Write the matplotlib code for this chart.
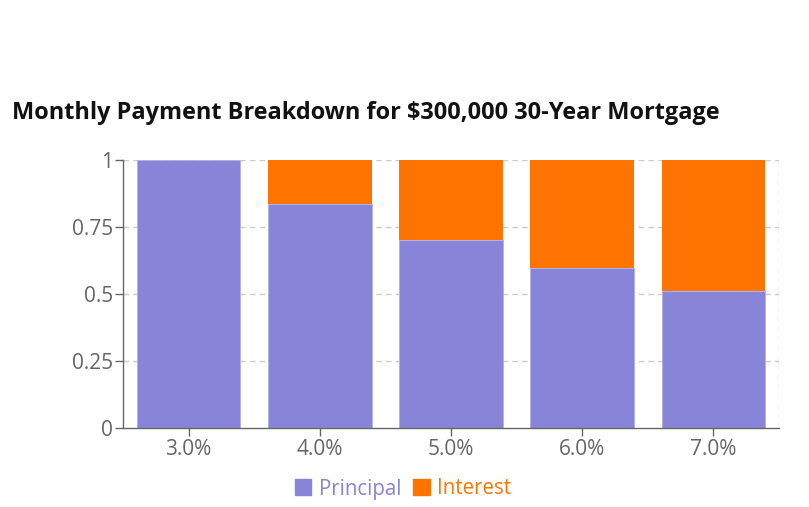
import numpy as np
import matplotlib.pyplot as plt
from matplotlib.patches import Patch

# ---- chart data ----
RATES = ["3.0%", "4.0%", "5.0%", "6.0%", "7.0%"]
PRINCIPAL = [1.0, 0.835, 0.70, 0.598, 0.512]
INTEREST = [0.0, 0.165, 0.30, 0.402, 0.488]
Y_TICKS = [0, 0.25, 0.5, 0.75, 1]
Y_TICK_LABELS = ["0", "0.25", "0.5", "0.75", "1"]

PRINCIPAL_COLOR = "#8884d8"
INTEREST_COLOR = "#ff7300"
AXIS_COLOR = "#666666"

plt.rcParams["font.family"] = ["Open Sans", "DejaVu Sans"]

W, H = 809, 507
fig = plt.figure(figsize=(W / 100, H / 100), dpi=100)
ax = fig.add_axes([123 / W, (H - 428) / H, (779 - 123) / W, (428 - 160) / H])

x = np.arange(len(RATES))
ax.bar(x, PRINCIPAL, width=0.79, color=PRINCIPAL_COLOR, edgecolor="#b3b0e8", linewidth=0.6, zorder=2)
ax.bar(x, INTEREST, width=0.79, bottom=PRINCIPAL, color=INTEREST_COLOR, linewidth=0, zorder=2)

ax.set_xlim(-0.5, len(RATES) - 0.5)
ax.set_ylim(0, 1)
ax.set_xticks(x)
ax.set_xticklabels(RATES)
ax.set_yticks(Y_TICKS)
ax.set_yticklabels(Y_TICK_LABELS)

# dashed grid like the reference
for yv in Y_TICKS[1:]:
    ax.axhline(yv, color="#cccccc", linestyle=(0, (4, 3)), linewidth=1, zorder=1)
ax.axvline(len(RATES) - 0.5, color="#cccccc", linestyle=(0, (4, 3)), linewidth=1, zorder=1)

for side in ["top", "right"]:
    ax.spines[side].set_visible(False)
for side in ["left", "bottom"]:
    ax.spines[side].set_color(AXIS_COLOR)
    ax.spines[side].set_linewidth(1)

ax.tick_params(axis="both", colors=AXIS_COLOR, labelcolor=AXIS_COLOR, labelsize=15, length=6, width=1)
ax.tick_params(axis="x", pad=2)
ax.tick_params(axis="y", pad=1)

fig.text(12 / W, 1 - 113 / H, "Monthly Payment Breakdown for $300,000 30-Year Mortgage",
         fontsize=16.9, fontweight="bold", color="#111111", va="center", ha="left")

handles = [Patch(color=PRINCIPAL_COLOR, label="Principal"), Patch(color=INTEREST_COLOR, label="Interest")]
leg = fig.legend(handles=handles, loc="center", bbox_to_anchor=(403 / W, 1 - 489 / H), ncol=2,
                 frameon=False, fontsize=14.8, handlelength=0.8, handleheight=0.8,
                 handletextpad=0.35, columnspacing=0.6)
for txt, c in zip(leg.get_texts(), [PRINCIPAL_COLOR, INTEREST_COLOR]):
    txt.set_color(c)

fig.savefig("out.png", dpi=100)
